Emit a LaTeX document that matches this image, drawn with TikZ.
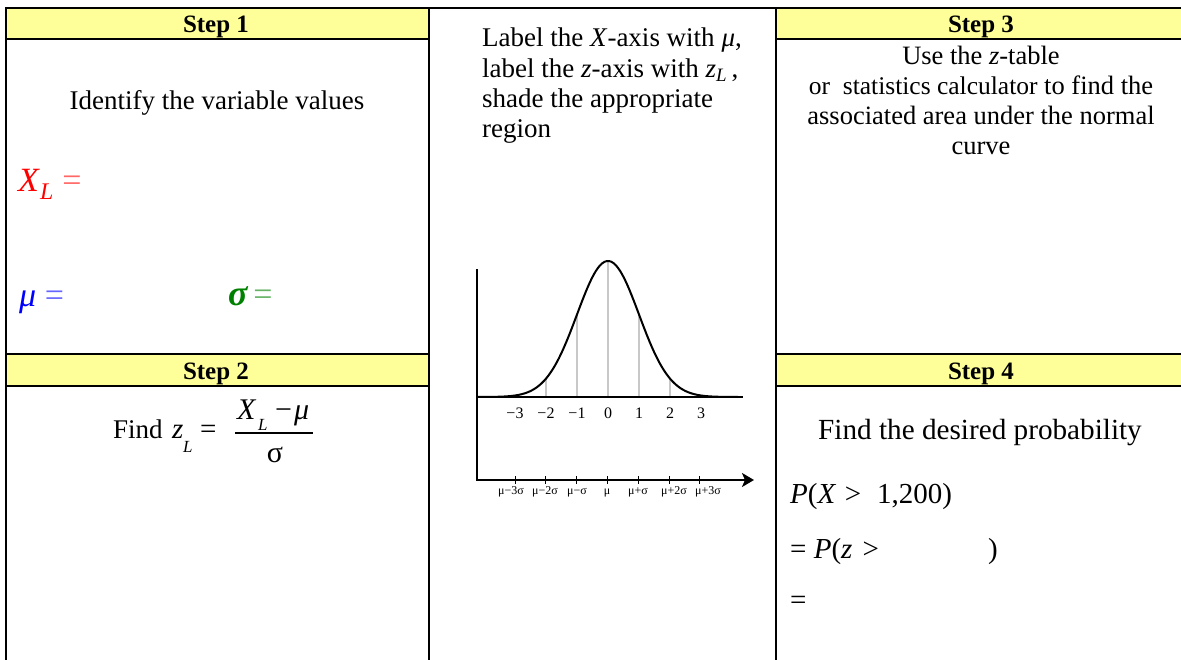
\documentclass[tikz,border=0pt]{standalone}
\usepackage{fontspec}
\setmainfont{Liberation Serif}
\usetikzlibrary{arrows.meta}
\definecolor{hdr}{RGB}{255,255,153}
\definecolor{mygreen}{RGB}{0,128,0}
\definecolor{plotgray}{RGB}{200,200,200}
\begin{document}
\begin{tikzpicture}[x=1pt,y=-1pt,
  border/.style={line width=2.5pt, line cap=rect},
  hdrtext/.style={font=\fontsize{25}{28}\selectfont\bfseries, inner sep=0, anchor=base},
  body/.style={font=\fontsize{27}{30}\selectfont, inner sep=0, anchor=base},
  bodyleft/.style={body, anchor=base west},
  stepthree/.style={font=\fontsize{26.5}{30}\selectfont, inner sep=0, anchor=base},
  varlabel/.style={font=\fontsize{34}{38}\selectfont, inner sep=0, anchor=base west},
  eqn/.style={inner sep=0, anchor=base west, font=\fontsize{29}{32}\selectfont},
  eqsub/.style={inner sep=0, anchor=base west, font=\fontsize{17}{20}\selectfont\itshape},
  zlab/.style={font=\fontsize{16}{18}\selectfont, inner sep=0, anchor=base},
  xlab/.style={font=\fontsize{12}{14}\selectfont, inner sep=0, anchor=base},
  axisline/.style={line width=2pt},
  guide/.style={line width=2pt, plotgray},
]
\useasboundingbox (0,0) rectangle (1181,660);
% header fills
\fill[hdr] (6,8) rectangle (429,39);
\fill[hdr] (776,8) rectangle (1181,39);
\fill[hdr] (6,354) rectangle (429,386);
\fill[hdr] (776,354) rectangle (1181,386);
% grid lines
\draw[border] (6,8) -- (1181,8);
\draw[border] (6,39) -- (429,39);
\draw[border] (776,39) -- (1181,39);
\draw[border] (6,354) -- (429,354);
\draw[border] (776,354) -- (1181,354);
\draw[border] (6,386) -- (429,386);
\draw[border] (776,386) -- (1181,386);
\draw[border] (6,8) -- (6,660);
\draw[border] (429,8) -- (429,660);
\draw[border] (776,8) -- (776,660);

% Step 1
\node[hdrtext] (s1h) at (216,33) {Step 1};
\node[body] (s1t) at (217,110) {Identify the variable values};
\node[varlabel, text=red] (xl) at (18,192) {\textit{X}\textsubscript{\textit{L}} \textcolor{red!60}{=}};
\node[varlabel, text=blue] (mu) at (19,307) {\textit{μ} \textcolor{blue!60}{=}};
\node[varlabel, text=mygreen] (sg) at (228,306) {{\fontsize{36}{38}\selectfont\bfseries\itshape σ}\,\textcolor{mygreen!60}{=}};

% Step 2
\node[hdrtext] (s2h) at (216,380) {Step 2};
\node[font=\fontsize{27}{30}\selectfont, inner sep=0, anchor=base west] (find) at (113,438) {Find};
\node[eqn, font=\fontsize{29}{32}\selectfont\itshape] (zs) at (172,438) {z};
\node[eqsub] (zsub) at (183,452) {L};
\node[eqn] (zeq) at (200,438) {=};
\node[eqn, font=\fontsize{30}{32}\selectfont\itshape] (nx) at (237,419) {X};
\node[eqsub] (nsub) at (258,430) {L};
\node[eqn, font=\fontsize{30}{32}\selectfont] (nminus) at (275,419) {−};
\node[eqn, font=\fontsize{30}{32}\selectfont\itshape] (nmu) at (294,419) {μ};
\node[font=\fontsize{30}{32}\selectfont, inner sep=0, anchor=base] (den) at (275,462) {σ};
\coordinate (fbl) at (235,433);
\coordinate (fbr) at (313,433);
\draw[line width=1.3pt] (fbl) -- (fbr);

% middle column text
\node[bodyleft] (m1) at (482,47) {Label the \textit{X}-axis with \textit{μ},};
\node[bodyleft] (m2) at (482,78) {label the \textit{z}-axis with \textit{z}\textsubscript{\textit{L}}\,,};
\node[bodyleft] (m3) at (482,108) {shade the appropriate};
\node[bodyleft] (m4) at (482,138) {region};

% plot
\coordinate (vtop) at (477,269);
\coordinate (vbot) at (477,481);
\coordinate (bl) at (477,397);
\coordinate (br) at (743,397);
\coordinate (al) at (476,480);
\coordinate (ar) at (754,480);
\foreach \z in {-3,...,3} {
  \draw[guide] ({608+31*\z},397) -- ({608+31*\z},{397-136*exp(-\z*\z/2)});
}
\draw[line width=2.5pt] (bl) -- (br);
\draw[line width=2pt, line join=round] plot[domain=-4.2:4.2, samples=120, smooth] ({608+31*\x},{397-136*exp(-\x*\x/2)});
\draw[axisline] (vtop) -- (vbot);
\draw[axisline, -{Stealth[length=12pt, width=14pt, inset=3pt]}] (al) -- (ar);
\foreach \z/\lab in {-3/−3,-2/−2,-1/−1,0/0,1/1,2/2,3/3} {
  \node[zlab] (z\z) at ({608+31*\z},418) {\lab};
}
\foreach \z in {-3,...,3} {
  \draw[line width=1pt] ({607.5+30.8*\z},476) -- ({607.5+30.8*\z},484);
}
\foreach \z/\cx/\lab in {-3/511/μ−3σ,-2/545/μ−2σ,-1/577/μ−σ,0/607/μ,1/638/μ+σ,2/674/μ+2σ,3/708/μ+3σ} {
  \node[xlab] (x\z) at (\cx,494) {\lab};
}

% Step 3
\node[hdrtext] (s3h) at (981,33) {Step 3};
\node[stepthree] (s3a) at (981,65) {Use the \textit{z}-table};
\node[stepthree] (s3b) at (981,95) {{\fontsize{25.5}{30}\selectfont or\ \ statistics calculator} to find the};
\node[stepthree] (s3c) at (981,125) {associated area under the normal};
\node[stepthree] (s3d) at (981,155) {curve};

% Step 4
\node[hdrtext] (s4h) at (981,380) {Step 4};
\node[font=\fontsize{29.2}{32}\selectfont, inner sep=0, anchor=base] (s4t) at (980,439) {Find the desired probability};
\node[eqn] (p1) at (790,503) {\textit{P}(\textit{X}\hspace{0.3em}>\hspace{0.55em}1,200)};
\node[eqn] (p2) at (790,558) {= \textit{P}(\textit{z}\hspace{0.35em}>};
\node[eqn] (p2b) at (988,558) {)};
\node[eqn] (p3) at (790,609) {=};
\end{tikzpicture}
\end{document}
